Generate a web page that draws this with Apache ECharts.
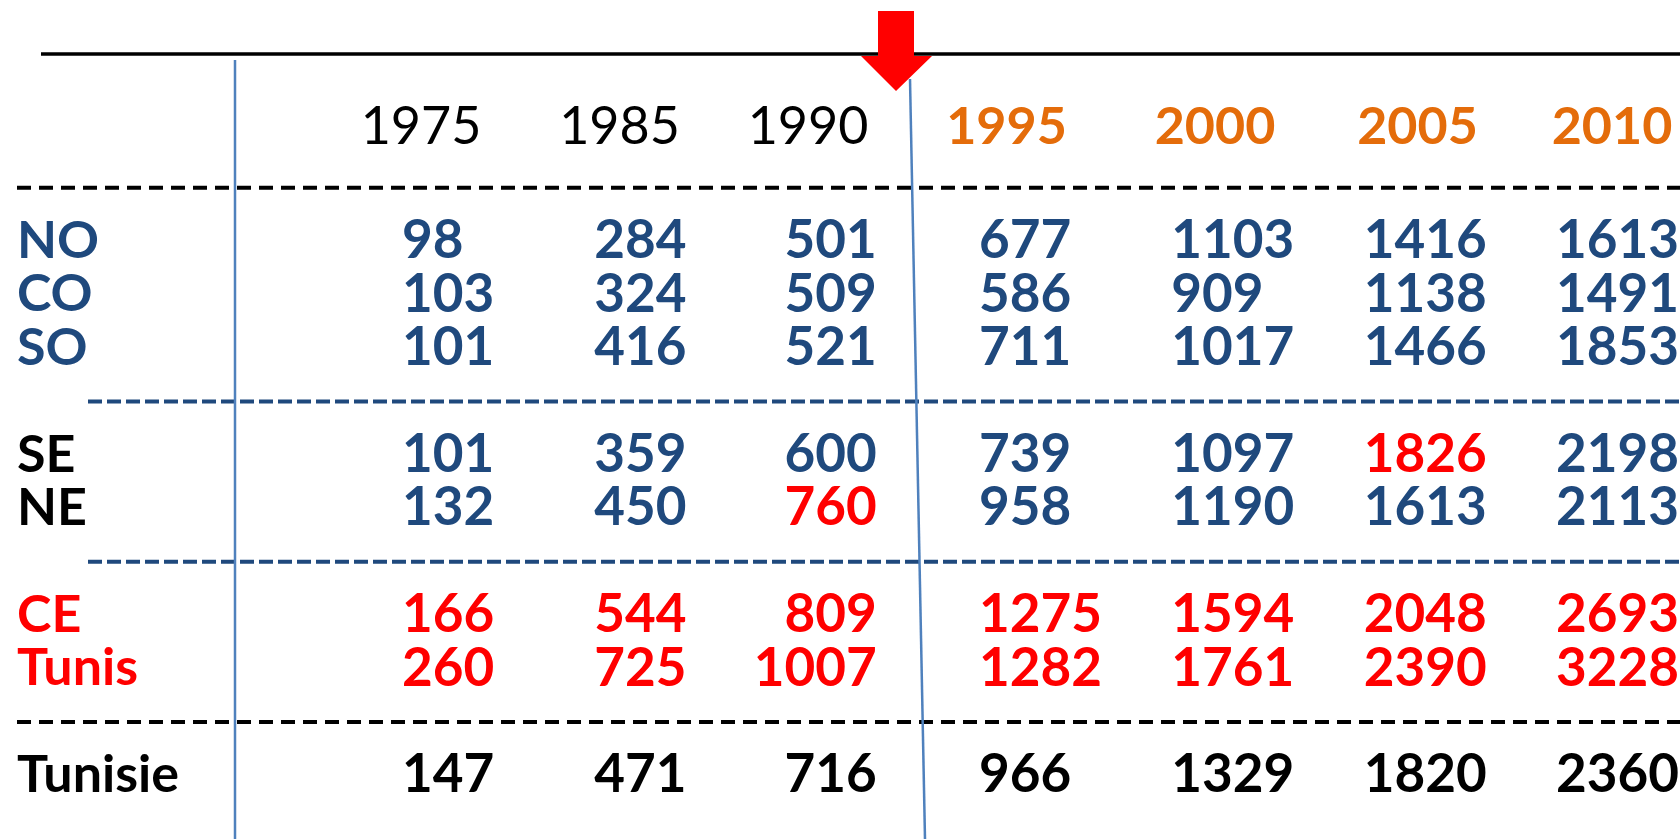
<!DOCTYPE html>
<html><head><meta charset="utf-8">
<script src="https://cdn.jsdelivr.net/npm/echarts@6/dist/echarts.min.js"></script>
<style>html,body{margin:0;padding:0;background:#fff}#c{width:1680px;height:839px}</style>
</head><body><div id="c"></div>
<script>
// ---- data ----
const years = ['1975','1985','1990','1995','2000','2005','2010'];
const regions = ['NO','CO','SO','SE','NE','CE','Tunis','Tunisie'];
const NO      = [98, 284, 501, 677, 1103, 1416, 1613];
const CO      = [103, 324, 509, 586, 909, 1138, 1491];
const SO      = [101, 416, 521, 711, 1017, 1466, 1853];
const SE      = [101, 359, 600, 739, 1097, 1826, 2198];
const NE      = [132, 450, 760, 958, 1190, 1613, 2113];
const CE      = [166, 544, 809, 1275, 1594, 2048, 2693];
const Tunis   = [260, 725, 1007, 1282, 1761, 2390, 3228];
const Tunisie = [147, 471, 716, 966, 1329, 1820, 2360];
const highlights = [['NE','1990'], ['SE','2005']];

// ---- styles ----
const BLUE = '#1F497D', RED = '#FF0000', ORANGE = '#E46C0A', BLACK = '#000000', LINE = '#4F81BD';
const FONT = "Lato, 'Open Sans', sans-serif";
const values = {NO, CO, SO, SE, NE, CE, Tunis, Tunisie};
const rowKeys = ['s1','NO','CO','SO','s2','SE','NE','s3','CE','Tunis','s4','Tunisie'];
const nameColor = {NO:BLUE, CO:BLUE, SO:BLUE, SE:BLACK, NE:BLACK, CE:RED, Tunis:RED, Tunisie:BLACK};
const numColor  = {NO:BLUE, CO:BLUE, SO:BLUE, SE:BLUE, NE:BLUE, CE:RED, Tunis:RED, Tunisie:BLACK};
const colAlign  = ['left','left','right','left','left','left','left'];
const colShift  = [0, 0, 90, 0, 0, 0, 0];
const headerBold = [false, false, false, true, true, true, true];
const headerShift = [0, 0, -10, -10, 0, 4, 0];
const separators = [
  {row:'s1', from:17, color:BLACK, dash:[14,8]},
  {row:'s2', from:88, color:BLUE,  dash:[14,5]},
  {row:'s3', from:88, color:BLUE,  dash:[14,5]},
  {row:'s4', from:17, color:BLACK, dash:[14,8]}
];

const isHi = (r, y) => highlights.some(h => h[0] === r && h[1] === y);

const cellData = [];
regions.forEach(r => {
  values[r].forEach((v, i) => {
    cellData.push({
      value: [i, r, v],
      label: {
        color: isHi(r, years[i]) ? RED : numColor[r],
        align: colAlign[i],
        offset: [colShift[i], 0]
      }
    });
  });
});

const headerData = years.map((y, i) => ({
  value: [i, 'hdr'],
  label: {
    color: headerBold[i] ? ORANGE : BLACK,
    fontWeight: headerBold[i] ? 'bold' : 'normal',
    offset: [headerShift[i], 0]
  }
}));

const sepSeries = separators.map(s => ({
  type: 'line', xAxisIndex: 2, yAxisIndex: 2, symbol: 'none', silent: true,
  data: [[s.from, s.row], [1680, s.row]],
  lineStyle: {color: s.color, width: 4, type: s.dash, opacity: 1}
}));

const chart = echarts.init(document.getElementById('c'), null, {renderer: 'canvas'});
chart.setOption({
  backgroundColor: '#ffffff',
  animation: false,
  textStyle: {fontFamily: FONT},
  grid: [
    {left: 402, right: 124, top: 161, height: 641},
    {left: 421, right: 68, top: 100, height: 54},
    {left: 0, right: 0, top: 161, height: 641}
  ],
  xAxis: [
    {type: 'category', gridIndex: 0, data: years, boundaryGap: false, show: false},
    {type: 'category', gridIndex: 1, data: years, boundaryGap: false, show: false},
    {type: 'value', gridIndex: 2, min: 0, max: 1680, show: false}
  ],
  yAxis: [
    {type: 'category', gridIndex: 0, data: rowKeys, inverse: true,
     axisLine: {show: false}, axisTick: {show: false}, splitLine: {show: false},
     axisLabel: {
       interval: 0, align: 'left', margin: 385,
       fontFamily: FONT, fontSize: 52, fontWeight: 'bold',
       formatter: v => regions.includes(v) ? '{' + v + '|' + v + '}' : '',
       rich: Object.fromEntries(regions.map(r => [r, {color: nameColor[r], fontFamily: FONT, fontSize: 52, fontWeight: 'bold'}]))
     }},
    {type: 'category', gridIndex: 1, data: ['hdr'], show: false},
    {type: 'category', gridIndex: 2, data: rowKeys, inverse: true, show: false}
  ],
  series: [
    ...sepSeries,
    {
      type: 'scatter', xAxisIndex: 0, yAxisIndex: 0, symbolSize: 0, silent: true,
      itemStyle: {opacity: 1},
      data: cellData,
      label: {show: true, position: 'inside', verticalAlign: 'middle',
              fontFamily: FONT, fontSize: 53, fontWeight: 'bold', opacity: 1,
              formatter: p => String(p.value[2])}
    },
    {
      type: 'scatter', xAxisIndex: 1, yAxisIndex: 1, symbolSize: 0, silent: true,
      itemStyle: {opacity: 1},
      data: headerData,
      label: {show: true, position: 'inside', align: 'center', verticalAlign: 'middle',
              fontFamily: FONT, fontSize: 52, opacity: 1,
              formatter: p => years[p.dataIndex]}
    }
  ],
  graphic: [
    {type: 'line', z: 50, shape: {x1: 41, y1: 54, x2: 1680, y2: 54}, style: {stroke: BLACK, lineWidth: 3.5}},
    {type: 'line', z: 50, shape: {x1: 235, y1: 60, x2: 235, y2: 839}, style: {stroke: LINE, lineWidth: 2.5}},
    {type: 'line', z: 50, shape: {x1: 910, y1: 79, x2: 925, y2: 839}, style: {stroke: LINE, lineWidth: 2.5}},
    {type: 'polygon', z: 60, shape: {points: [[878,11],[914,11],[914,56],[932,56],[896,91],[861,56],[878,56]]},
     style: {fill: RED}}
  ]
});
</script>
</body></html>
